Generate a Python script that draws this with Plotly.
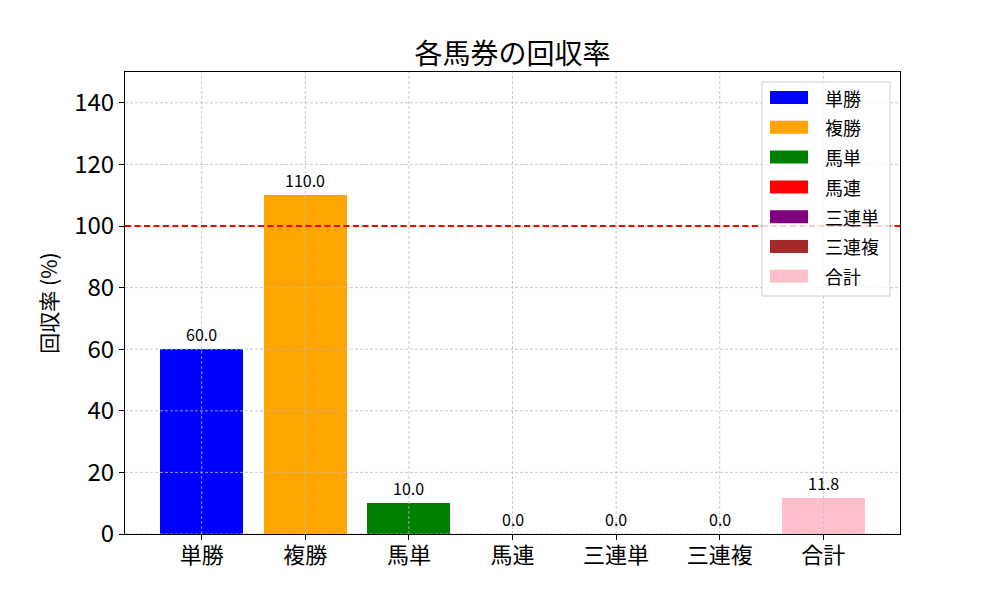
import plotly.graph_objects as go

categories = ["単勝", "複勝", "馬単", "馬連", "三連単", "三連複", "合計"]
values = [60.0, 110.0, 10.0, 0.0, 0.0, 0.0, 11.8]
colors = ["blue", "orange", "green", "red", "purple", "brown", "pink"]
title = "各馬券の回収率"
ylabel = "回収率 (%)"
yticks = [0, 20, 40, 60, 80, 100, 120, 140]
breakeven = 100

FONT = "Noto Sans CJK JP"
GRID = dict(color="#bdbdbd", width=0.8, dash="3px,2px")

# plot area in pixels (for legend placement)
PL, PR, PT, PB = 125, 900, 72, 534
W, H = PR - PL, PB - PT

def px_x(x):
    return (x - PL) / W

def px_y(y):
    return (PB - y) / H

fig = go.Figure()
for i, (c, v, col) in enumerate(zip(categories, values, colors)):
    fig.add_trace(go.Bar(x=[i], y=[v], name=c, marker=dict(color=col, line=dict(width=0)),
                         width=0.8, showlegend=False))

# grid lines above bars
for i in range(len(categories)):
    fig.add_shape(type="line", xref="x", yref="paper", x0=i, x1=i, y0=0, y1=1,
                  line=GRID, layer="above")
for t in yticks:
    fig.add_shape(type="line", xref="paper", yref="y", x0=0, x1=1, y0=t, y1=t,
                  line=GRID, layer="above")

fig.add_shape(type="line", xref="paper", yref="y", x0=0, x1=1, y0=breakeven, y1=breakeven,
              line=dict(color="red", dash="6px,3.5px", width=1.8), layer="above")

for i, v in enumerate(values):
    fig.add_annotation(x=i, y=v, text=f"{v:.1f}", showarrow=False, yanchor="bottom",
                       yshift=1, font=dict(size=16, color="black", family=FONT))

# legend (manual, matplotlib style)
fig.add_shape(type="rect", xref="paper", yref="paper",
              x0=px_x(762), x1=px_x(890), y0=px_y(296), y1=px_y(82),
              line=dict(color="#d0d0d0", width=1), fillcolor="rgba(255,255,255,0.8)",
              layer="above")
for k, (c, col) in enumerate(zip(categories, colors)):
    cy = 97.5 + k * 29.8
    fig.add_shape(type="rect", xref="paper", yref="paper",
                  x0=px_x(770), x1=px_x(808), y0=px_y(cy + 6.5), y1=px_y(cy - 6.5),
                  line=dict(width=0), fillcolor=col, layer="above")
    fig.add_annotation(xref="paper", yref="paper", x=px_x(823), y=px_y(cy), text=c,
                       showarrow=False, xanchor="left", yanchor="middle",
                       font=dict(size=18, family=FONT, color="black"))

fig.update_layout(
    width=1000, height=600,
    margin=dict(l=PL, r=1000 - PR, t=PT, b=600 - PB),
    paper_bgcolor="white", plot_bgcolor="white",
    font=dict(family=FONT, color="black"),
    title=dict(text=title, x=0.5125, xanchor="center", y=0.91, yanchor="middle",
               font=dict(size=28, family=FONT)),
    barmode="overlay",
    bargap=0,
    showlegend=False,
)

fig.update_xaxes(
    range=[-0.74, len(categories) - 1 + 0.74],
    tickvals=list(range(len(categories))), ticktext=categories,
    showline=True, linecolor="black", linewidth=1.2, mirror=True,
    ticks="outside", ticklen=5, tickcolor="black",
    showgrid=False, zeroline=False,
    tickfont=dict(size=22, family=FONT),
    ticklabelstandoff=-4,
)
fig.update_yaxes(
    range=[0, 150], tickvals=yticks,
    showline=True, linecolor="black", linewidth=1.2, mirror=True,
    ticks="outside", ticklen=5, tickcolor="black",
    showgrid=False, zeroline=False,
    tickfont=dict(size=24, family=FONT),
    title=dict(text=ylabel, font=dict(size=21, family=FONT), standoff=10),
)

fig.write_html("out.html")
